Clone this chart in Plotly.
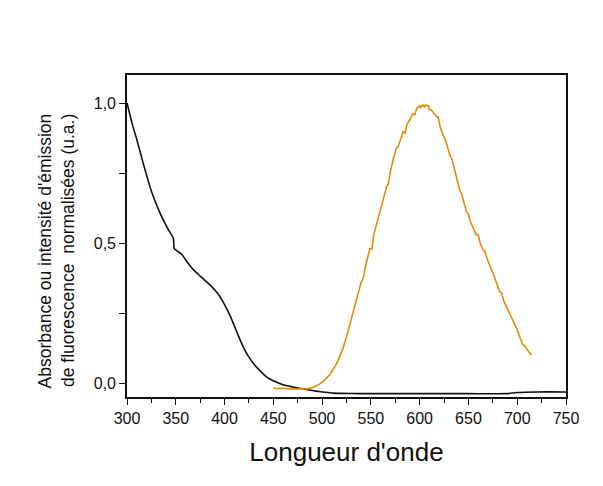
import plotly.graph_objects as go

# Absorption spectrum (normalised)
abs_wl = [300, 305, 310, 317, 325, 334, 342, 347.5, 348.5, 352, 356, 362, 368, 375,
          382, 390, 395, 400, 405, 409, 414, 419, 424, 430, 436, 443, 450, 460, 470,
          477, 485, 494, 503, 511, 520, 540, 600, 650, 690, 700, 720, 750]
abs_val = [1.0, 0.93, 0.87, 0.78, 0.685, 0.606, 0.55, 0.517, 0.48, 0.47, 0.46, 0.43,
           0.405, 0.382, 0.36, 0.332, 0.31, 0.28, 0.245, 0.213, 0.17, 0.13, 0.098,
           0.068, 0.045, 0.022, 0.008, -0.006, -0.014, -0.019, -0.024, -0.029, -0.033,
           -0.036, -0.037, -0.038, -0.038, -0.038, -0.038, -0.034, -0.032, -0.032]

# Fluorescence emission spectrum (normalised)
em_wl = [450, 455, 460, 465, 470, 475, 480, 485, 490, 493, 497, 501, 505, 508, 512,
         515, 518, 521, 525, 528, 532, 534, 536, 540, 542, 544, 549, 551, 553, 556,
         559, 561, 563, 566, 568, 570, 573, 576, 578, 580, 583, 585, 587, 590, 593,
         595, 597, 600, 601, 603, 605, 606, 609, 610, 612, 615, 618, 619, 621, 624,
         626, 628, 631, 633, 635, 638, 641, 643, 645, 648, 650, 652, 655, 658, 660,
         662, 665, 667, 669, 673, 675, 677, 682, 684, 686, 690, 693, 696, 700, 703,
         706, 708, 710, 712, 715]
em_val = [-0.018, -0.020, -0.019, -0.021, -0.020, -0.022, -0.020, -0.021, -0.017,
          -0.013, -0.005, 0.006, 0.018, 0.030, 0.052, 0.070, 0.095, 0.120, 0.165,
          0.205, 0.255, 0.275, 0.310, 0.360, 0.372, 0.410, 0.480, 0.478, 0.530,
          0.570, 0.610, 0.628, 0.665, 0.700, 0.712, 0.755, 0.800, 0.838, 0.845,
          0.870, 0.898, 0.892, 0.925, 0.940, 0.962, 0.958, 0.981, 0.990, 0.984,
          0.993, 0.986, 0.992, 0.990, 0.976, 0.975, 0.962, 0.948, 0.952, 0.915,
          0.886, 0.872, 0.850, 0.814, 0.800, 0.770, 0.731, 0.690, 0.676, 0.648,
          0.610, 0.602, 0.576, 0.552, 0.529, 0.530, 0.500, 0.475, 0.470, 0.445,
          0.410, 0.398, 0.375, 0.326, 0.322, 0.295, 0.265, 0.240, 0.219, 0.190,
          0.160, 0.136, 0.132, 0.118, 0.110, 0.100]

x_ticks = [300, 350, 400, 450, 500, 550, 600, 650, 700, 750]
y_ticks = [0.0, 0.5, 1.0]
y_tick_text = ["0,0", "0,5", "1,0"]
y_title = "Absorbance ou intensité d'émission<br>de fluorescence  normalisées (u.a.)"

fig = go.Figure()
fig.add_trace(go.Scatter(x=abs_wl, y=abs_val, mode="lines",
                         line=dict(color="#111111", width=1.6, shape="spline", smoothing=0.6),
                         showlegend=False))
fig.add_trace(go.Scatter(x=em_wl, y=em_val, mode="lines",
                         line=dict(color="#e8890c", width=1.6), showlegend=False))

font_family = "Liberation Sans, Arial, sans-serif"

# Vertical axis caption, lines aligned toward the top end
fig.add_annotation(
    text=y_title, textangle=-90, showarrow=False, align="right",
    xref="paper", yref="paper", x=-0.1595, y=0.455,
    xanchor="center", yanchor="middle",
    font=dict(size=17.5, family=font_family, color="#111111"),
)

fig.update_layout(
    width=603, height=486,
    margin=dict(l=127, r=37, t=75, b=89),
    paper_bgcolor="white", plot_bgcolor="white",
    font=dict(family=font_family, color="#111111"),
    xaxis=dict(
        range=[300, 750], tickvals=x_ticks,
        ticks="outside", ticklen=6, tickwidth=1.2, tickcolor="#111111",
        minor=dict(dtick=25, tick0=300, ticks="outside", ticklen=4, tickcolor="#111111"),
        showline=True, linecolor="#111111", linewidth=1.6, mirror=True,
        showgrid=False, zeroline=False,
        tickfont=dict(size=16),
        title=dict(text="Longueur d'onde", font=dict(size=26), standoff=17),
    ),
    yaxis=dict(
        range=[-0.05, 1.1], tickvals=y_ticks, ticktext=y_tick_text,
        ticks="outside", ticklen=6, tickwidth=1.2, tickcolor="#111111",
        minor=dict(dtick=0.25, tick0=0, ticks="outside", ticklen=6, tickcolor="#111111"),
        showline=True, linecolor="#111111", linewidth=1.6, mirror=True,
        showgrid=False, zeroline=False,
        tickfont=dict(size=16),
    ),
)

fig.write_html("out.html")
